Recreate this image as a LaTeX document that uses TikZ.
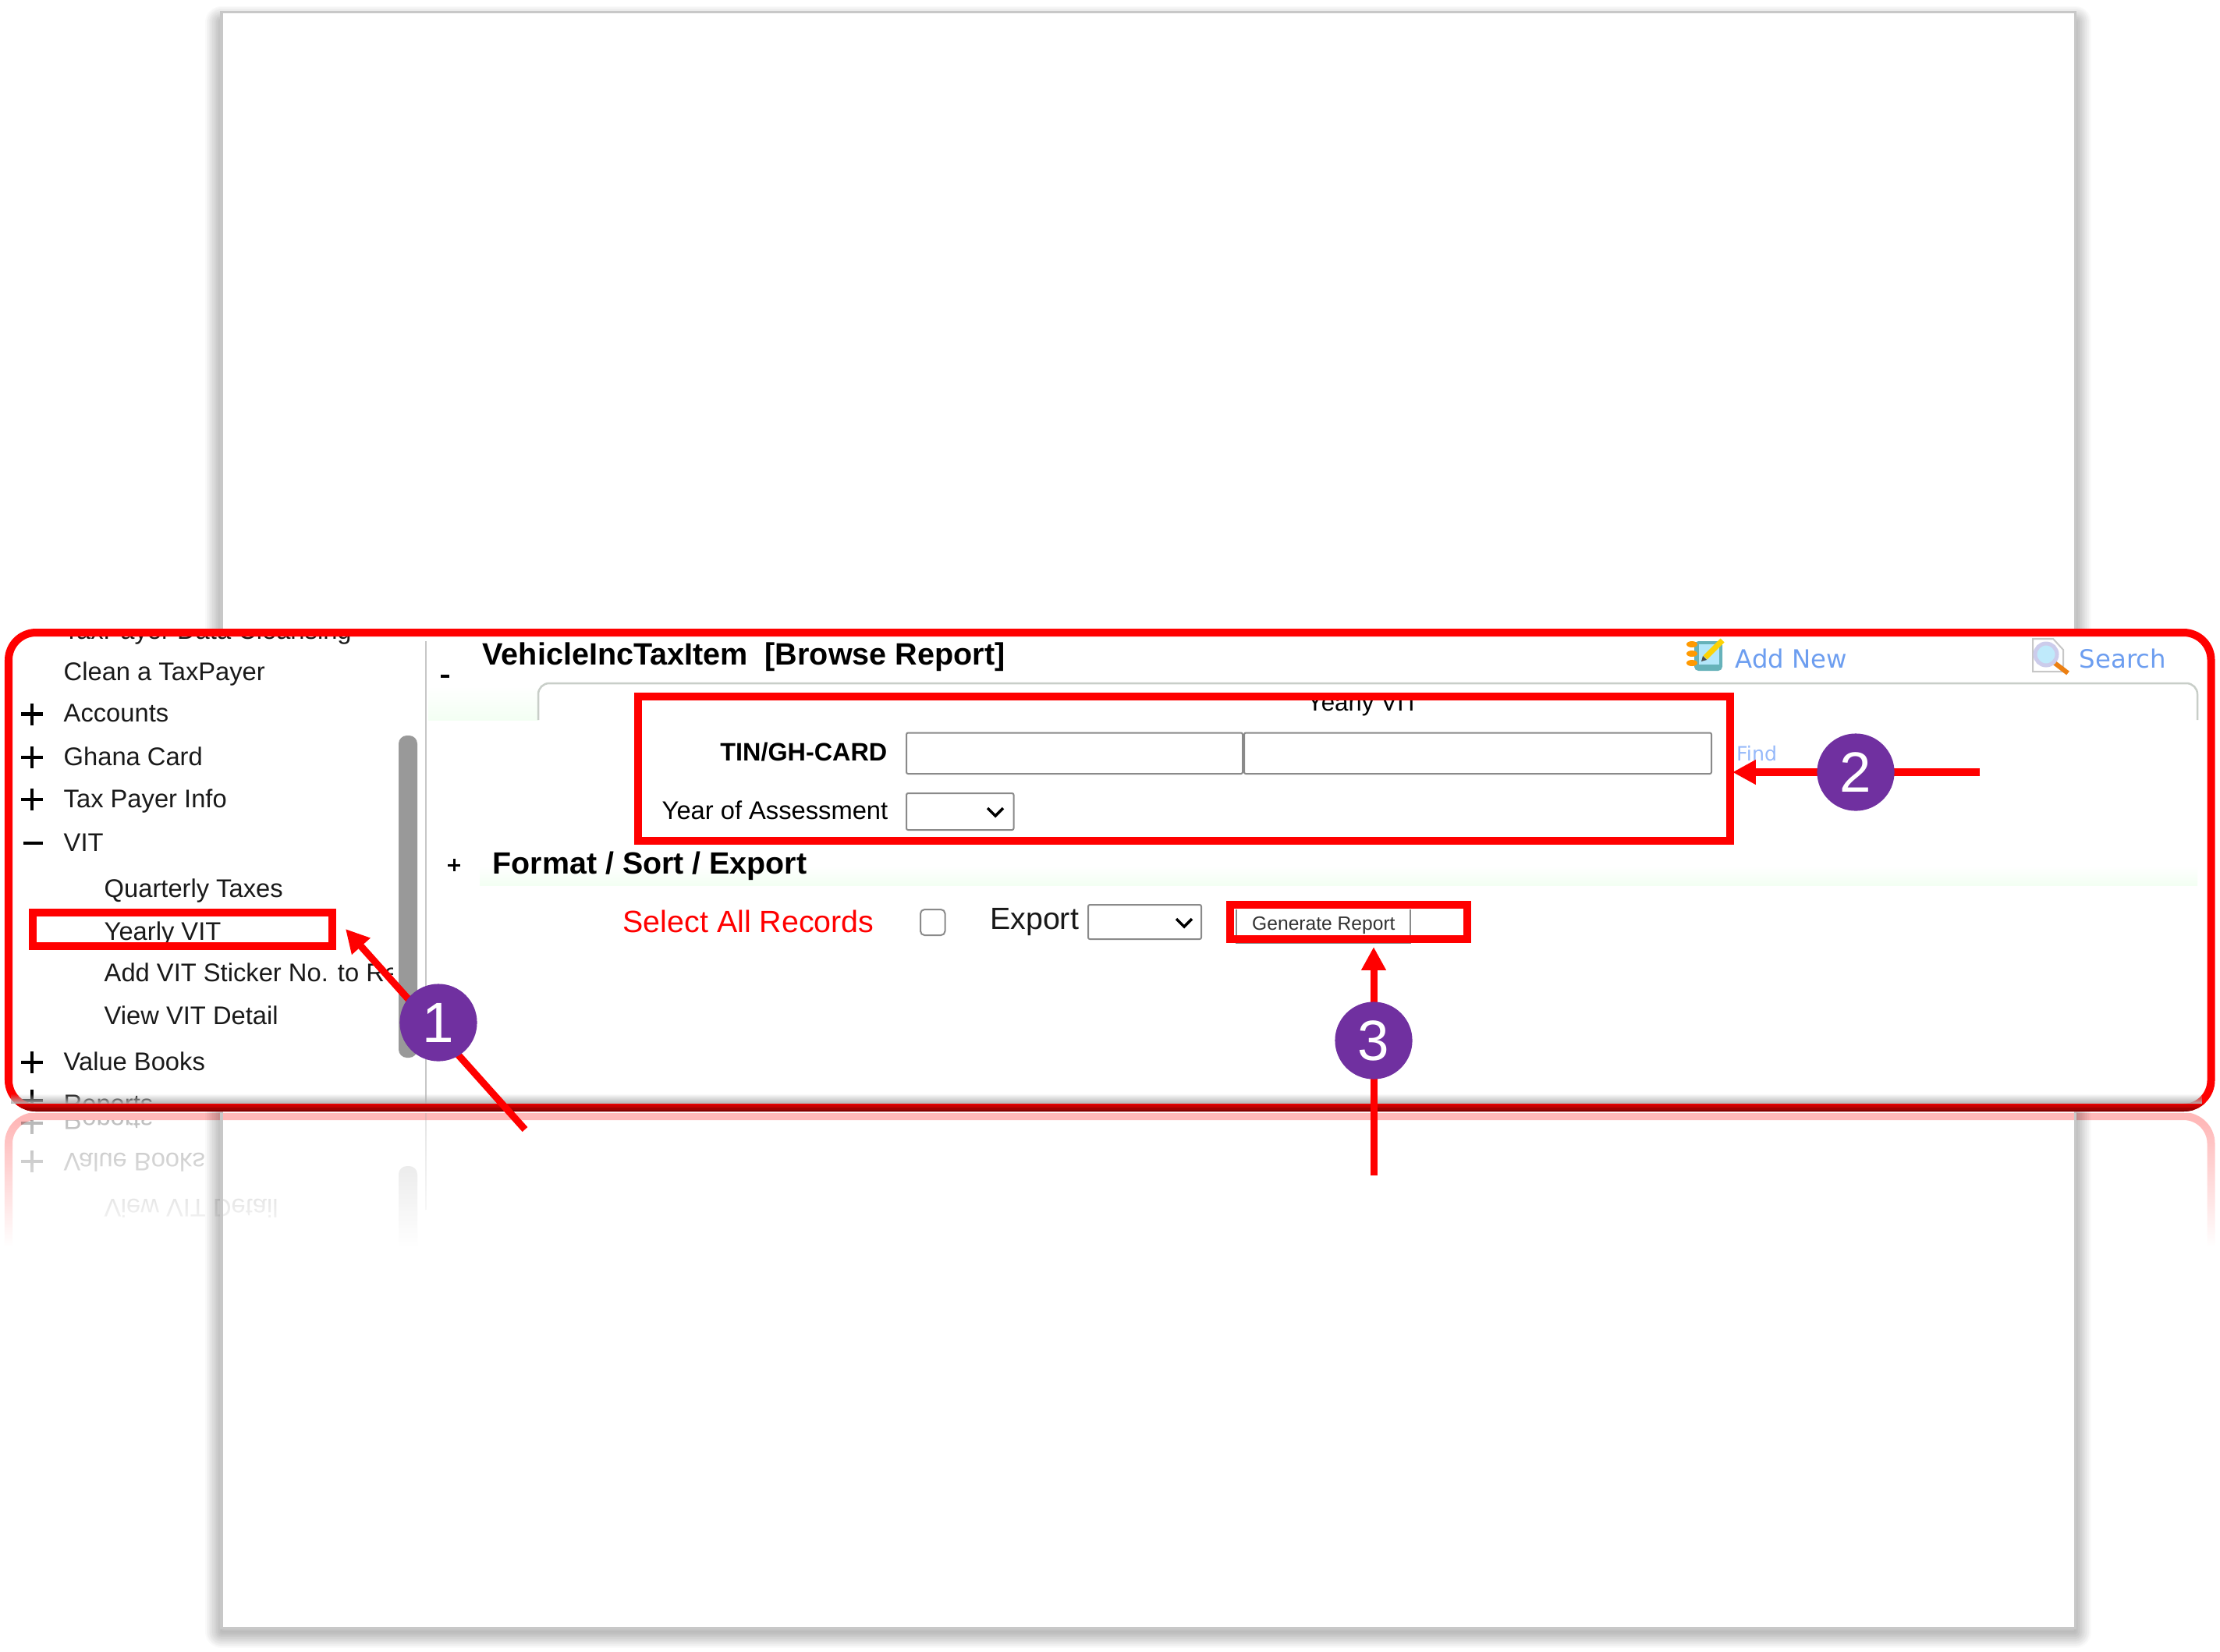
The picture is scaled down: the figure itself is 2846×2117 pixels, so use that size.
\documentclass[tikz,border=0pt]{standalone}
\usepackage{fontspec}
\setmainfont{Liberation Sans}
\newfontfamily\vfont{DejaVu Sans}
\usetikzlibrary{arrows.meta,fadings,shapes.geometric}
\definecolor{redmark}{RGB}{255,0,0}
\definecolor{purplemark}{RGB}{112,48,160}
\definecolor{linkblue}{RGB}{109,158,240}
\definecolor{findblue}{RGB}{150,185,250}
\definecolor{inputline}{RGB}{138,138,138}
\definecolor{pageedge}{RGB}{200,200,200}
\definecolor{tabline}{RGB}{200,206,200}
\definecolor{bandgreen}{RGB}{243,255,243}
\definecolor{scrollgrey}{RGB}{153,153,153}
\definecolor{sidetext}{RGB}{26,26,26}
\newcommand{\fsz}[1]{\fontsize{#1}{#1}\selectfont}
\tikzfading[name=downfade, top color=transparent!100, bottom color=transparent!0]
\tikzset{
  px/.style={line width=#1*0.2845pt},
  sidelabel/.style={anchor=base west,inner sep=0pt,text=sidetext,font=\fsz{9.3}},
  formlabel/.style={anchor=base east,inner sep=0pt,text=black,font=\fsz{9.3}},
  headlabel/.style={anchor=base west,inner sep=0pt,text=black,font=\bfseries\fsz{11.2}},
  linklabel/.style={anchor=base west,inner sep=0pt,text=linkblue,font=\vfont\fsz{9.2}},
  redbox/.style={draw=redmark,px=10},
  inputbox/.style={draw=inputline,px=2,fill=white,rounded corners=0.6pt},
  redarrow/.style={draw=redmark,-{Triangle[length=8.5pt,width=8.5pt]}},
  badge/.style={circle,fill=purplemark,text=white,minimum size=28.2pt,inner sep=0pt,font=\fsz{20.7}},
  plusmark/.style={draw=black,px=4.5},
}
\newcommand{\panelpath}{[rounded corners=10pt] (11,811) rectangle (2834.5,1420)}
\newcommand{\plusat}[3][14]{\draw[plusmark] (#2-#1,#3) -- (#2+#1,#3) (#2,#3-#1) -- (#2,#3+#1);}
% lower part of the side menu, drawn twice (panel and its reflection)
\newcommand{\lowermenu}[1]{%
  \node[sidelabel] (view#1) at (133,1313.5) {View VIT Detail};
  \node[sidelabel] (value#1) at (81,1372.5) {Value Books};
  \node[sidelabel] (reports#1) at (81,1426) {Reports};
  \plusat{41}{1362}
  \plusat{41}{1411}
}
\newcommand{\pageshadow}{%
  \foreach \w in {2,5,...,41}{
    \draw[black,opacity=.021,px=\w,line join=round] (284,28) rectangle (2660,2092);
  }
}
\begin{document}
\begin{tikzpicture}[x=0.01cm,y=-0.01cm]
\useasboundingbox (0,0) rectangle (2846,2117);
\fill[white] (0,0) rectangle (2846,2117);
% page sheet
\fill[white] (285,16) rectangle (2660,2087);

% reflection of the panel
\begin{scope}
  \clip (0,1427) rectangle (2846,1596);
  \begin{scope}[shift={(0,2851)},yscale=-1,transform shape,opacity=.28]
    \draw[redmark,px=10] \panelpath;
    \draw[black!35,px=2] (546,1300) -- (546,1424);
    \fill[scrollgrey,rounded corners=3pt] (511,1240) rectangle (535,1356);
    \begin{scope}
      \clip (16,820) rectangle (540,1415);
      \lowermenu{r}
    \end{scope}
  \end{scope}
  \fill[white,path fading=downfade] (0,1437) rectangle (2846,1597);
\end{scope}

% page shadow and edge, outside the sheet
\begin{scope}
  \clip (0,0) rectangle (284,2117) (2661,0) rectangle (2846,2117)
        (284,0) rectangle (2661,15) (284,2088) rectangle (2661,2117);
  \pageshadow
\end{scope}
\draw[pageedge,px=3.5] (284,15.5) rectangle (2660.5,2087.5);

% panel
\fill[white] \panelpath;
\shade[top color=white,bottom color=bandgreen] (549,880) rectangle (690,923);
\shade[top color=white,bottom color=bandgreen] (615,1110) rectangle (2817,1135);
\draw[tabline,px=2.5,rounded corners=4pt] (690,923) -- (690,876) -- (2817,876) -- (2817,923);
\draw[black!22,px=2.5] (546,822) -- (546,1415);
\fill[scrollgrey,rounded corners=3pt] (511,943) rectangle (535,1356);

% side menu
\begin{scope}
  \clip (16,816) rectangle (540,1415);
  \node[sidelabel] (cleansing) at (81,819) {TaxPayer Data Cleansing};
  \node[sidelabel] (clean) at (81,872.5) {Clean a TaxPayer};
  \node[sidelabel] (accounts) at (81,925.5) {Accounts};
  \node[sidelabel] (ghana) at (81,981.5) {Ghana Card};
  \node[sidelabel] (taxpayer) at (81,1035.5) {Tax Payer Info};
  \node[sidelabel] (vit) at (81,1091.5) {VIT};
  \node[sidelabel] (quarterly) at (133,1150.5) {Quarterly Taxes};
  \node[sidelabel] (yearly) at (133,1205) {Yearly VIT};
  \begin{scope}
    \clip (100,1220) rectangle (503,1275);
    \node[sidelabel] (sticker) at (133,1258.5) {Add VIT Sticker No. to Re};
  \end{scope}
  \plusat{41}{915.5}
  \plusat{41}{971}
  \plusat{41}{1025}
  \draw[plusmark] (30,1081) -- (55,1081);
  \lowermenu{m}
\end{scope}

% main area
\node[headlabel,font=\bfseries\fsz{11.25}] (title) at (618,852.5) {VehicleIncTaxItem\ \ [Browse Report]};
\draw[black,px=4] (565,867) -- (576,867);
\node[formlabel,anchor=base west,font=\fsz{8.9}] (tabtitle) at (1675,911) {Yearly VIT};
\node[formlabel,font=\bfseries\fsz{9.2}] (tin) at (1138,975.5) {TIN/GH-CARD};
\node[formlabel] (yoa) at (1139,1050) {Year of Assessment};
\draw[inputbox] (1162,939.5) rectangle (1593,992);
\draw[inputbox] (1595,939.5) rectangle (2194,992);
\draw[inputbox] (1162,1017) rectangle (1299.5,1064);
\draw[black,px=3.5] (1266,1036) -- (1276,1046) -- (1286,1036);
\node[anchor=base west,inner sep=0pt,text=findblue,font=\vfont\fsz{7.2}] (find) at (2225.5,975) {Find};

\draw[black,px=3] (574,1109) -- (590,1109) (582,1101) -- (582,1117);
\node[headlabel] (format) at (631,1120) {Format / Sort / Export};
\node[anchor=base west,inner sep=0pt,text=redmark,font=\fsz{11.2}] (selectall) at (798,1195) {Select All Records};
\draw[inputbox,rounded corners=1.5pt] (1180,1166) rectangle (1211.5,1199);
\node[anchor=base west,inner sep=0pt,text=black!90,font=\fsz{11.2}] (export) at (1268.5,1191) {Export};
\draw[inputbox] (1395,1160) rectangle (1540,1204);
\draw[black,px=3.5] (1508,1178) -- (1518,1188) -- (1528,1178);
\draw[inputline,px=2] (1585,1166) -- (1585,1209) -- (1808,1209) -- (1808,1166);
\node[anchor=base west,inner sep=0pt,text=black!80,font=\fsz{7}] (generate) at (1604.5,1192) {Generate Report};

% Add New icon
\fill[blue!10!cyan!55!black!60!white,rounded corners=1.5pt] (2172,822) rectangle (2208,860);
\fill[cyan!30!white] (2178,826) rectangle (2204,852);
\foreach \yy in {826,838,850}{
  \fill[orange!80!yellow] (2169,\yy) ellipse (7 and 4);
}
\draw[yellow!70!orange,px=7] (2186,843) -- (2208,821);
\fill[black!70] (2181,848) -- (2183,841) -- (2188,846) -- cycle;
\node[linklabel] (addnew) at (2224,856) {Add New};

% Search icon
\draw[black!22,fill=white,px=2] (2606,819) -- (2632,819) -- (2645,833) -- (2645,861) -- (2606,861) -- cycle;
\draw[orange!70!brown,px=6] (2634,850) -- (2651,863);
\draw[black!40!blue!20!white,fill=cyan!25!white,px=5] (2623,839) circle (14);
\node[linklabel] (search) at (2665,856) {Search};

% red highlights
\draw[redmark,px=10] \panelpath;
\begin{scope}
  \clip (0,1414) rectangle (2846,1417);
  \draw[red!90!black,px=10] \panelpath;
\end{scope}
\begin{scope}
  \clip (0,1417) rectangle (2846,1420);
  \draw[red!78!black,px=10] \panelpath;
\end{scope}
\begin{scope}
  \clip (0,1420) rectangle (2846,1423);
  \draw[red!63!black,px=10] \panelpath;
\end{scope}
\begin{scope}
  \clip (0,1423) rectangle (2846,1426);
  \draw[red!50!black,px=10] \panelpath;
\end{scope}
\fill[black!30,path fading=downfade] (16,1402) rectangle (2829,1415);
\draw[redbox] (42,1170) rectangle (426,1213);
\draw[redbox] (818,893) rectangle (2218,1078);
\draw[redbox] (1577,1160) rectangle (1881,1204);

% numbered arrows
\coordinate (tailA) at (673,1448);
\coordinate (tipA) at (443,1191);
\coordinate (tailB) at (2538,990);
\coordinate (tipB) at (2221,990);
\coordinate (tailC) at (1761,1507);
\coordinate (tipC) at (1761,1214);
\draw[redarrow,px=9] (tailA) -- (tipA);
\draw[redarrow,px=10] (tailB) -- (tipB);
\draw[redarrow,px=9] (tailC) -- (tipC);
\node[badge] (badgeA) at (562,1311) {1};
\node[badge] (badgeB) at (2379,990) {2};
\node[badge] (badgeC) at (1761,1334) {3};
\end{tikzpicture}
\end{document}
